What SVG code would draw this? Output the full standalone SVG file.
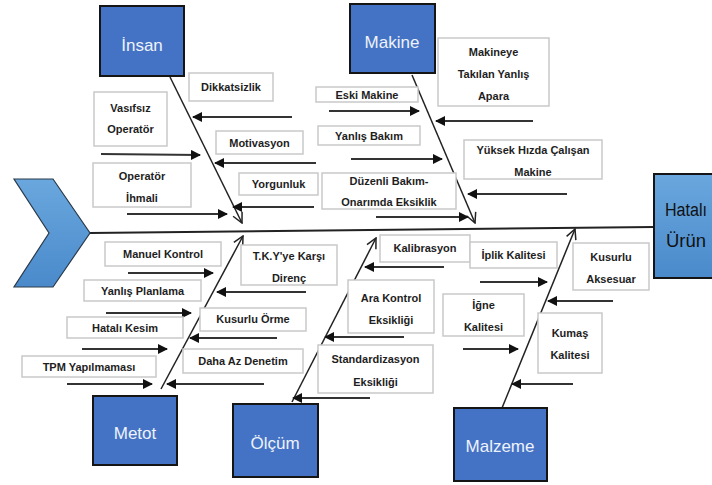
<svg xmlns="http://www.w3.org/2000/svg" width="712" height="485" viewBox="0 0 712 485">
<defs>
<linearGradient id="gBlue" x1="0" y1="0" x2="0" y2="1">
<stop offset="0" stop-color="#6AA7DE"/>
<stop offset="1" stop-color="#4A8ACB"/>
</linearGradient>
<marker id="fill" viewBox="0 0 10 10" refX="9" refY="5" markerWidth="10" markerHeight="10" markerUnits="userSpaceOnUse" orient="auto">
<path d="M0,0 L10,5 L0,10 Z" fill="#111"/>
</marker>
<marker id="open" viewBox="0 0 12 12" refX="11" refY="6" markerWidth="12" markerHeight="12" markerUnits="userSpaceOnUse" orient="auto">
<path d="M1,1 L11,6 L1,11" fill="none" stroke="#222" stroke-width="1.5"/>
</marker>
</defs>
<style>
.cat{fill:#4472C4;stroke:#151515;stroke-width:2}
.cattx{font-family:"Liberation Sans",Arial,sans-serif;font-size:17px;fill:#eef3fb;text-anchor:middle}
.box{fill:#fff;stroke:#c9c9c9;stroke-width:1.5}
.lbl{font-family:"Liberation Sans",Arial,sans-serif;font-weight:bold;font-size:11px;fill:#1e1e1e;text-anchor:middle}
.arr{stroke:#333;stroke-width:2;fill:none;marker-end:url(#fill)}
.br{stroke:#222;stroke-width:1.5;fill:none;marker-end:url(#open)}
.spine{stroke:#222;stroke-width:2;fill:none}
</style>
<rect width="712" height="485" fill="#fff"/>

<g id="connectors">
<line class="spine" x1="90" y1="233" x2="654" y2="227"/>
<line class="br" x1="170" y1="77" x2="242" y2="223"/>
<line class="br" x1="412" y1="75" x2="475" y2="223"/>
<line class="br" x1="161" y1="389" x2="243" y2="236"/>
<line class="br" x1="292" y1="402" x2="376" y2="238"/>
<line class="br" x1="502" y1="408" x2="575" y2="229"/>
<line class="arr" x1="292" y1="117" x2="193" y2="117"/>
<line class="arr" x1="101" y1="154" x2="200" y2="155"/>
<line class="arr" x1="316" y1="163" x2="215" y2="163"/>
<line class="arr" x1="127" y1="214" x2="227" y2="214"/>
<line class="arr" x1="314" y1="207" x2="233" y2="207"/>
<line class="arr" x1="329" y1="111" x2="419" y2="111"/>
<line class="arr" x1="533" y1="121" x2="436" y2="121"/>
<line class="arr" x1="351" y1="159" x2="442" y2="159"/>
<line class="arr" x1="567" y1="194" x2="468" y2="194"/>
<line class="arr" x1="376" y1="217" x2="468" y2="217"/>
<line class="arr" x1="128" y1="273" x2="213" y2="273"/>
<line class="arr" x1="306" y1="292" x2="217" y2="292"/>
<line class="arr" x1="106" y1="313" x2="191" y2="313"/>
<line class="arr" x1="277" y1="338" x2="190" y2="338"/>
<line class="arr" x1="82" y1="349" x2="167" y2="349"/>
<line class="arr" x1="264" y1="384" x2="167" y2="384"/>
<line class="arr" x1="67" y1="384" x2="152" y2="384"/>
<line class="arr" x1="444" y1="267" x2="365" y2="267"/>
<line class="arr" x1="404" y1="337" x2="325" y2="337"/>
<line class="arr" x1="370" y1="398" x2="293" y2="398"/>
<line class="arr" x1="480" y1="282" x2="547" y2="282"/>
<line class="arr" x1="613" y1="301" x2="548" y2="301"/>
<line class="arr" x1="463" y1="349" x2="518" y2="349"/>
<line class="arr" x1="573" y1="384" x2="512" y2="384"/>
</g>

<g id="start">
<path d="M14,179 L53,179 L90,233 L53,287 L14,287 L49,233 Z" fill="url(#gBlue)" stroke="#2a3a4a" stroke-width="1.2"/>
</g>
<g id="hatali-urun">
<rect x="654" y="174" width="60" height="104" fill="url(#gBlue)" stroke="#151515" stroke-width="2"/>
<text x="686" y="216" font-family="Liberation Sans,Arial,sans-serif" font-size="18" fill="#111" text-anchor="middle" textLength="42" lengthAdjust="spacingAndGlyphs">Hatalı</text>
<text x="686" y="247" font-family="Liberation Sans,Arial,sans-serif" font-size="18" fill="#111" text-anchor="middle" textLength="40" lengthAdjust="spacingAndGlyphs">Ürün</text>
</g>

<g id="insan"><rect class="cat" x="100" y="6" width="84" height="70"/><text class="cattx" x="142" y="51">İnsan</text></g>
<g id="makine"><rect class="cat" x="350" y="4" width="85" height="69"/><text class="cattx" x="392" y="48">Makine</text></g>
<g id="metot"><rect class="cat" x="93" y="396" width="84" height="69"/><text class="cattx" x="135" y="439">Metot</text></g>
<g id="olcum"><rect class="cat" x="233" y="404" width="85" height="73"/><text class="cattx" x="275" y="449">Ölçüm</text></g>
<g id="malzeme"><rect class="cat" x="454" y="408" width="93" height="73"/><text class="cattx" x="500" y="452">Malzeme</text></g>

<g id="dikkatsizlik"><rect class="box" x="189" y="73" width="84" height="28"/><text class="lbl" x="231" y="91">Dikkatsizlik</text></g>
<g id="vasifsiz-operator"><rect class="box" x="94" y="92" width="73" height="54"/><text class="lbl" x="130.5" y="112">Vasıfsız</text><text class="lbl" x="130.5" y="133">Operatör</text></g>
<g id="motivasyon"><rect class="box" x="216" y="131" width="87" height="23"/><text class="lbl" x="259.5" y="147">Motivasyon</text></g>
<g id="operator-ihmali"><rect class="box" x="93" y="163" width="98" height="44"/><text class="lbl" x="142" y="180">Operatör</text><text class="lbl" x="142" y="202">İhmali</text></g>
<g id="yorgunluk"><rect class="box" x="239" y="173" width="79" height="22"/><text class="lbl" x="278.5" y="188">Yorgunluk</text></g>

<g id="eski-makine"><rect class="box" x="316" y="87" width="102" height="15"/><text class="lbl" x="367" y="99">Eski Makine</text></g>
<g id="yanlis-apara"><rect class="box" x="438" y="38" width="111" height="68"/><text class="lbl" x="493.5" y="56">Makineye</text><text class="lbl" x="493.5" y="78">Takılan Yanlış</text><text class="lbl" x="493.5" y="100">Apara</text></g>
<g id="yanlis-bakim"><rect class="box" x="318" y="126" width="102" height="19"/><text class="lbl" x="369" y="140">Yanlış Bakım</text></g>
<g id="yuksek-hiz"><rect class="box" x="464" y="140" width="138" height="39"/><text class="lbl" x="533" y="154">Yüksek Hızda Çalışan</text><text class="lbl" x="533" y="176">Makine</text></g>
<g id="duzenli-bakim"><rect class="box" x="322" y="173" width="134" height="36"/><text class="lbl" x="389" y="185">Düzenli Bakım-</text><text class="lbl" x="389" y="206">Onarımda Eksiklik</text></g>

<g id="manuel-kontrol"><rect class="box" x="105" y="242" width="116" height="24"/><text class="lbl" x="163" y="258">Manuel Kontrol</text></g>
<g id="tky-direnc"><rect class="box" x="241" y="245" width="96" height="40"/><text class="lbl" x="289" y="260">T.K.Y'ye Karşı</text><text class="lbl" x="289" y="282">Direnç</text></g>
<g id="yanlis-planlama"><rect class="box" x="84" y="280" width="117" height="21"/><text class="lbl" x="142.5" y="295">Yanlış Planlama</text></g>
<g id="kusurlu-orme"><rect class="box" x="200" y="308" width="106" height="23"/><text class="lbl" x="253" y="323">Kusurlu Örme</text></g>
<g id="hatali-kesim"><rect class="box" x="67" y="317" width="116" height="21"/><text class="lbl" x="125" y="332">Hatalı Kesim</text></g>
<g id="daha-az-denetim"><rect class="box" x="183" y="349" width="120" height="24"/><text class="lbl" x="243" y="365">Daha Az Denetim</text></g>
<g id="tpm"><rect class="box" x="22" y="356" width="134" height="21"/><text class="lbl" x="89" y="371">TPM Yapılmaması</text></g>

<g id="kalibrasyon"><rect class="box" x="380" y="235" width="90" height="27"/><text class="lbl" x="425" y="252">Kalibrasyon</text></g>
<g id="ara-kontrol"><rect class="box" x="348" y="280" width="86" height="53"/><text class="lbl" x="391" y="302">Ara Kontrol</text><text class="lbl" x="391" y="324">Eksikliği</text></g>
<g id="standardizasyon"><rect class="box" x="318" y="345" width="115" height="48"/><text class="lbl" x="375.5" y="363">Standardizasyon</text><text class="lbl" x="375.5" y="386">Eksikliği</text></g>

<g id="iplik-kalitesi"><rect class="box" x="470" y="242" width="87" height="26"/><text class="lbl" x="513.5" y="259">İplik Kalitesi</text></g>
<g id="kusurlu-aksesuar"><rect class="box" x="573" y="243" width="76" height="47"/><text class="lbl" x="611" y="261">Kusurlu</text><text class="lbl" x="611" y="283">Aksesuar</text></g>
<g id="igne-kalitesi"><rect class="box" x="443" y="294" width="81" height="42"/><text class="lbl" x="483.5" y="309">İğne</text><text class="lbl" x="483.5" y="331">Kalitesi</text></g>
<g id="kumas-kalitesi"><rect class="box" x="538" y="313" width="64" height="60"/><text class="lbl" x="570" y="337">Kumaş</text><text class="lbl" x="570" y="359">Kalitesi</text></g>
</svg>
